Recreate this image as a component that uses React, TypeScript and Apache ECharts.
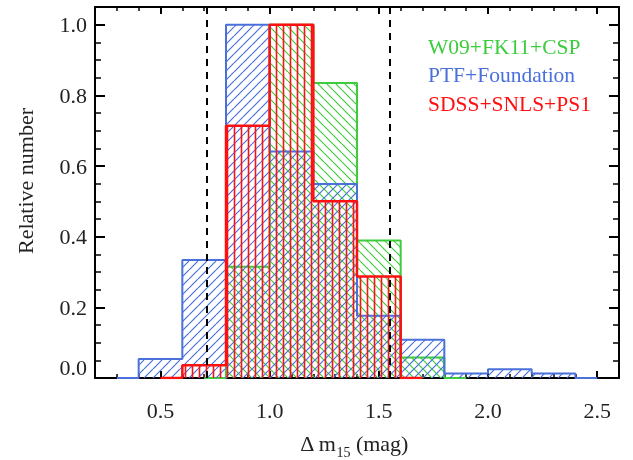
import React, { useEffect, useRef } from 'react';
import * as echarts from 'echarts';

const binWidth = 0.2;
const blueStart = 0.4;
const blueValues = [0.054, 0.334, 1.0, 0.641, 0.549, 0.176, 0.108, 0.013, 0.025, 0.013];
const greenStart = 0.8;
const greenValues = [0.315, 1.0, 0.835, 0.389, 0.058];
const redStart = 0.6;
const redValues = [0.036, 0.714, 1.0, 0.5, 0.287];
const dashedLines = [0.714, 1.551];
const xTicks = [0.5, 1.0, 1.5, 2.0, 2.5];
const yTicks = [0, 0.2, 0.4, 0.6, 0.8, 1.0];
const legendNames = ['W09+FK11+CSP', 'PTF+Foundation', 'SDSS+SNLS+PS1'];

const GREEN = '#3ccc3c';
const BLUE = '#4a70dc';
const RED = '#ff1010';
const FONT = '"Liberation Serif", "Times New Roman", serif';
const TXT = '#222';

function stepPoints(start: number, values: number[]) {
  const pts: number[][] = [[start - binWidth / 2, 0], [start, 0]];
  values.forEach((v, i) => {
    const x0 = start + i * binWidth;
    const x1 = x0 + binWidth;
    pts.push([x0, v], [x1, v]);
  });
  const end = start + values.length * binWidth;
  pts.push([end, 0], [end + binWidth / 2, 0]);
  return pts.map((p) => [+p[0].toFixed(4), p[1]]);
}

function hatch(color: string, kind: string, size: number, lw: number) {
  const c = document.createElement('canvas');
  c.width = size;
  c.height = size;
  const ctx = c.getContext('2d')!;
  ctx.strokeStyle = color;
  ctx.lineWidth = lw;
  ctx.beginPath();
  if (kind === 'v') {
    ctx.moveTo(size / 2, 0);
    ctx.lineTo(size / 2, size);
  } else if (kind === '/') {
    for (const o of [-size, 0, size]) {
      ctx.moveTo(o, size);
      ctx.lineTo(o + size, 0);
    }
  } else {
    for (const o of [-size, 0, size]) {
      ctx.moveTo(o, 0);
      ctx.lineTo(o + size, size);
    }
  }
  ctx.stroke();
  return { image: c, repeat: 'repeat' };
}

export default function App() {
  const ref = useRef<HTMLDivElement>(null);
  useEffect(() => {
    const chart = echarts.init(ref.current!, undefined, { renderer: 'svg' });
    const mkSeries = (name: string, color: string, pts: number[][], pattern: any, z: number, w: number) => ({
      type: 'line',
      name,
      data: pts,
      symbol: 'none',
      showSymbol: false,
      silent: true,
      z,
      lineStyle: { color, width: w },
      itemStyle: { color },
      areaStyle: { color: pattern, opacity: 1 },
    });
    const axisLineStyle = { show: true, onZero: false, lineStyle: { color: '#000', width: 2 } };
    const xMajor = (pos: string, labels: boolean) => ({
      type: 'value', position: pos, min: 0.2, max: 2.6,
      axisLine: axisLineStyle,
      axisTick: { show: true, inside: true, length: 7, customValues: xTicks, lineStyle: { color: '#000', width: 2 } },
      axisLabel: labels
        ? { show: true, customValues: xTicks, formatter: (v: number) => v.toFixed(1), margin: 21, fontSize: 22, fontFamily: FONT, color: TXT }
        : { show: false },
      splitLine: { show: false },
    });
    const xMinor = (pos: string) => ({
      type: 'value', position: pos, min: 0.2, max: 2.6, interval: 0.1,
      axisLine: { show: false, onZero: false },
      axisTick: { show: true, inside: true, length: 4, lineStyle: { color: '#000', width: 1.5 } },
      axisLabel: { show: false },
      splitLine: { show: false },
    });
    const yMajor = (pos: string, labels: boolean) => ({
      type: 'value', position: pos, min: 0, max: 1.05,
      axisLine: axisLineStyle,
      axisTick: { show: true, inside: true, length: 10, customValues: yTicks, lineStyle: { color: '#000', width: 2 } },
      axisLabel: labels
        ? { show: true, customValues: yTicks, formatter: (v: number) => v.toFixed(1), margin: 8, fontSize: 22, fontFamily: FONT, color: TXT, padding: [10, 0, 0, 0], verticalAlignMinLabel: 'bottom' }
        : { show: false },
      splitLine: { show: false },
    });
    const yMinor = (pos: string) => ({
      type: 'value', position: pos, min: 0, max: 1.05, interval: 0.05,
      axisLine: { show: false, onZero: false },
      axisTick: { show: true, inside: true, length: 6, lineStyle: { color: '#000', width: 1.5 } },
      axisLabel: { show: false },
      splitLine: { show: false },
    });
    const legendY = [47, 75.3, 103.6];
    const legendColors = [GREEN, BLUE, RED];
    chart.setOption({
      animation: false,
      grid: { left: 95, right: 14, top: 7, bottom: 82, outerBoundsMode: 'none' },
      xAxis: [xMajor('bottom', true), xMinor('bottom'), xMajor('top', false), xMinor('top')],
      yAxis: [yMajor('left', true), yMinor('left'), yMajor('right', false), yMinor('right')],
      series: [
        mkSeries(legendNames[0], GREEN, stepPoints(greenStart, greenValues), hatch(GREEN, '\\', 9, 1.2), 2, 2),
        mkSeries(legendNames[1], BLUE, stepPoints(blueStart, blueValues), hatch(BLUE, '/', 9, 1.2), 3, 2),
        {
          ...mkSeries(legendNames[2], RED, stepPoints(redStart, redValues), hatch(RED, 'v', 7, 1.6), 4, 2.5),
          markLine: {
            silent: true,
            symbol: ['none', 'none'],
            label: { show: false },
            lineStyle: { color: '#000', type: [7, 6], width: 2 },
            data: dashedLines.map((x) => ({ xAxis: x })),
          },
        },
      ],
      graphic: [
        ...legendNames.map((t, i) => ({
          type: 'text', x: 428, y: legendY[i], z: 100,
          style: { text: t, fill: legendColors[i], font: `21.5px ${FONT}`, align: 'left', verticalAlign: 'middle' },
        })),
        {
          type: 'text', x: 25.5, y: 181, rotation: Math.PI / 2, z: 100,
          style: { text: 'Relative number', fill: TXT, font: `22px ${FONT}`, align: 'center', verticalAlign: 'middle' },
        },
        {
          type: 'text', x: 354, y: 443, z: 100,
          style: {
            text: '{a|Δ m}{s|15}{a| (mag)}',
            align: 'center', verticalAlign: 'middle',
            rich: {
              a: { fontSize: 22, fontFamily: FONT, fill: TXT, lineHeight: 32, verticalAlign: 'middle' },
              s: { fontSize: 14, fontFamily: FONT, fill: TXT, lineHeight: 14, verticalAlign: 'bottom' },
            },
          },
        },
      ],
    });
    return () => chart.dispose();
  }, []);
  return <div ref={ref} style={{ position: 'fixed', left: 0, top: 0, width: 633, height: 460 }} />;
}
